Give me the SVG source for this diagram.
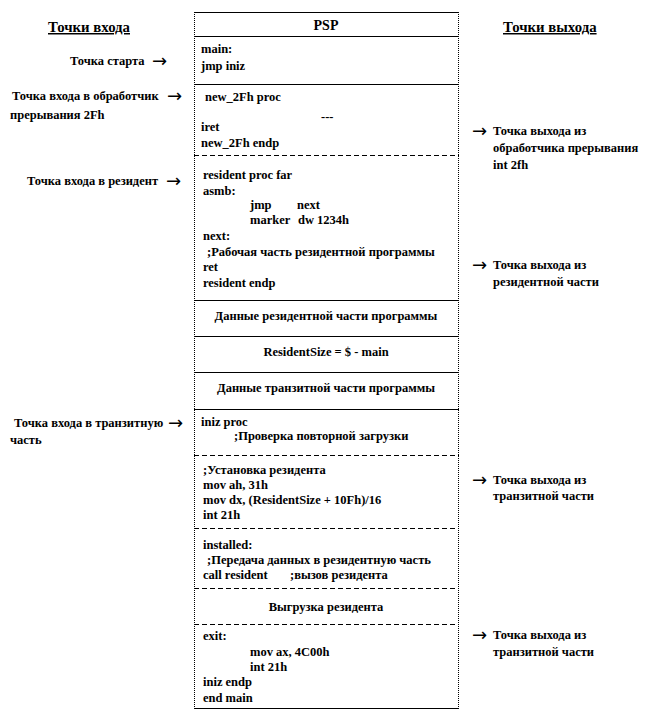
<svg xmlns="http://www.w3.org/2000/svg" width="652" height="720" viewBox="0 0 652 720">
<style>
text{font-family:"Liberation Serif","DejaVu Serif",serif;font-weight:bold;font-size:12.5px;fill:#000}
.t{font-size:14.8px;text-decoration:underline}
.h{font-size:14px}
.c{text-anchor:middle}
.a{font-family:"DejaVu Sans",sans-serif;font-size:18px;font-weight:normal}
.sol{stroke:#000;stroke-width:1;fill:none}
.dsh{stroke:#000;stroke-width:1;stroke-dasharray:5 3;fill:none}
.dot{stroke:#000;stroke-width:1;stroke-dasharray:1 1;fill:none}
</style>
<rect width="652" height="720" fill="#fff"/>
<g id="titles">
<text class="t" x="48" y="32">Точки входа</text>
<text class="t" x="503" y="32">Точки выхода</text>
</g>
<g id="psp-box">
<line class="sol" x1="194" y1="12.5" x2="459" y2="12.5"/>
<line class="dot" x1="194.5" y1="12" x2="194.5" y2="708"/>
<line class="dot" x1="458.5" y1="12" x2="458.5" y2="708"/>
<line class="sol" x1="194" y1="708.5" x2="459" y2="708.5"/>
<text class="h c" x="326" y="30">PSP</text>
<line class="sol" x1="194" y1="36.5" x2="459" y2="36.5"/>
</g>
<g id="main">
<text x="201" y="53">main:</text>
<text x="201" y="70">jmp iniz</text>
<line class="sol" x1="194" y1="84.5" x2="459" y2="84.5"/>
</g>
<g id="new2fh">
<text x="205" y="101">new_2Fh proc</text>
<text x="321" y="121">---</text>
<text x="201" y="131">iret</text>
<text x="201" y="147">new_2Fh endp</text>
<line class="dsh" x1="194" y1="155.5" x2="459" y2="155.5"/>
</g>
<g id="resident">
<text x="203" y="179">resident proc far</text>
<text x="203" y="195">asmb:</text>
<text x="250" y="209">jmp</text>
<text x="297" y="209">next</text>
<text x="250" y="224">marker</text>
<text x="298" y="224">dw 1234h</text>
<text x="203" y="240">next:</text>
<text x="207" y="256">;Рабочая часть резидентной программы</text>
<text x="203" y="271">ret</text>
<text x="203" y="287">resident endp</text>
<line class="sol" x1="194" y1="300.5" x2="459" y2="300.5"/>
</g>
<g id="res-data">
<text class="c" x="326" y="320">Данные резидентной части программы</text>
<line class="sol" x1="194" y1="336.5" x2="459" y2="336.5"/>
</g>
<g id="res-size">
<text class="c" x="326" y="356">ResidentSize = $ - main</text>
<line class="sol" x1="194" y1="372.5" x2="459" y2="372.5"/>
</g>
<g id="tr-data">
<text class="c" x="326" y="392">Данные транзитной части программы</text>
<line class="sol" x1="194" y1="409.5" x2="459" y2="409.5"/>
</g>
<g id="iniz">
<text x="201" y="426">iniz proc</text>
<text x="234" y="440">;Проверка повторной загрузки</text>
<line class="dsh" x1="194" y1="455.5" x2="459" y2="455.5"/>
</g>
<g id="install">
<text x="203" y="474">;Установка резидента</text>
<text x="203" y="489">mov ah, 31h</text>
<text x="203" y="504">mov dx, (ResidentSize + 10Fh)/16</text>
<text x="203" y="519">int 21h</text>
<line class="dsh" x1="194" y1="528.5" x2="459" y2="528.5"/>
</g>
<g id="installed">
<text x="203" y="549">installed:</text>
<text x="207" y="564">;Передача данных в резидентную часть</text>
<text x="203" y="579">call resident</text>
<text x="290" y="579">;вызов резидента</text>
<line class="dsh" x1="194" y1="588.5" x2="459" y2="588.5"/>
</g>
<g id="unload">
<text class="c" x="326" y="611">Выгрузка резидента</text>
<line class="dsh" x1="194" y1="624.5" x2="459" y2="624.5"/>
</g>
<g id="exit">
<text x="203" y="640">exit:</text>
<text x="250" y="656">mov ax, 4C00h</text>
<text x="250" y="671">int 21h</text>
<text x="203" y="686">iniz endp</text>
<text x="203" y="702">end main</text>
</g>
<g id="entry-points">
<text x="70" y="65">Точка старта</text>
<text class="a" x="152" y="67">→</text>
<text x="12" y="100">Точка входа  в обработчик</text>
<text class="a" x="167" y="102">→</text>
<text x="10" y="119">прерывания 2Fh</text>
<text x="27" y="185">Точка входа в резидент</text>
<text class="a" x="166" y="187">→</text>
<text x="14" y="427">Точка входа в транзитную</text>
<text class="a" x="168" y="429">→</text>
<text x="10" y="444">часть</text>
</g>
<g id="exit-points">
<text class="a" x="472" y="137">→</text>
<text x="493" y="135">Точка выхода  из</text>
<text x="493" y="152">обработчика прерывания</text>
<text x="493" y="169">int 2fh</text>
<text class="a" x="472" y="271">→</text>
<text x="493" y="269">Точка выхода  из</text>
<text x="493" y="286">резидентной части</text>
<text class="a" x="472" y="486">→</text>
<text x="493" y="484">Точка выхода  из</text>
<text x="493" y="500">транзитной части</text>
<text class="a" x="472" y="641">→</text>
<text x="493" y="639">Точка выхода  из</text>
<text x="493" y="656">транзитной части</text>
</g>
</svg>
